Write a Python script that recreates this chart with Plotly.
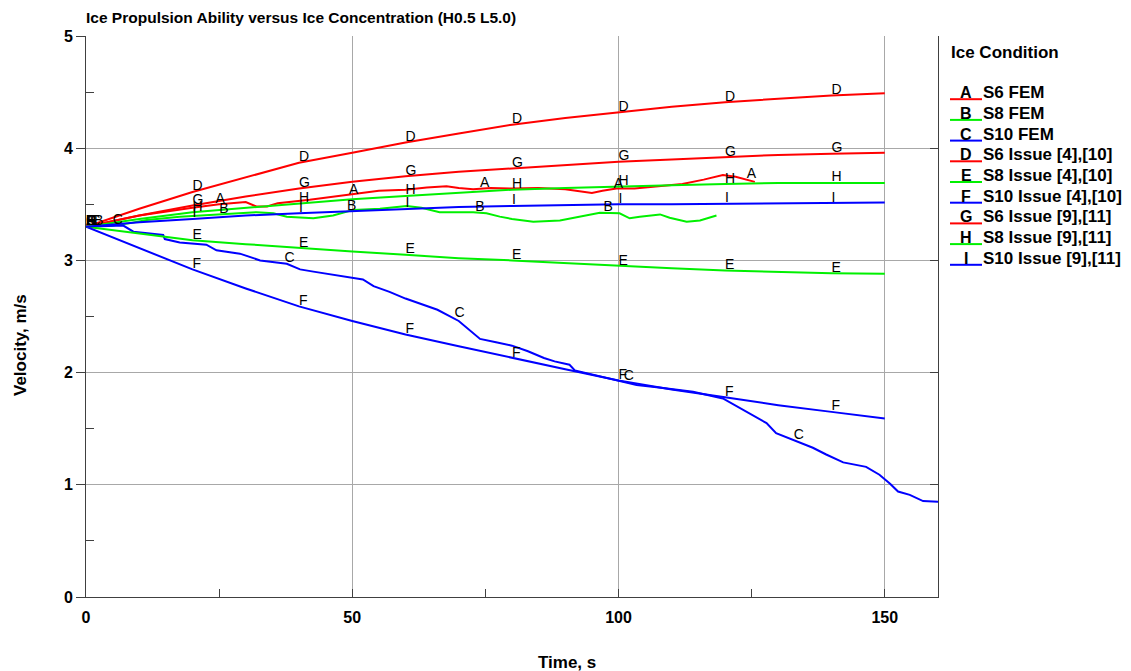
import numpy as np
import plotly.graph_objects as go

# ---------------- data ----------------
names = ["S6 FEM", "S8 FEM", "S10 FEM",
         "S6 Issue [4],[10]", "S8 Issue [4],[10]", "S10 Issue [4],[10]",
         "S6 Issue [9],[11]", "S8 Issue [9],[11]", "S10 Issue [9],[11]"]
letters = ["A", "B", "C", "D", "E", "F", "G", "H", "I"]
colors = ["#ff0000", "#00f000", "#0000ff"] * 3

# A: S6 FEM
a_x = [0, 10, 20, 25, 30, 32, 34, 36, 42, 49, 55, 60, 64, 67.7, 70, 72.7, 76, 80, 85, 90,
       93, 95, 97, 99.6, 103, 108, 112, 116, 119.6, 122, 124, 125.6]
a_y = [3.30, 3.40, 3.47, 3.50, 3.52, 3.48, 3.48, 3.51, 3.54, 3.58, 3.62, 3.63, 3.65, 3.66, 3.645,
       3.635, 3.645, 3.64, 3.645, 3.635, 3.61, 3.60, 3.62, 3.64, 3.64, 3.665, 3.68, 3.72, 3.76,
       3.745, 3.72, 3.70]
# B: S8 FEM
b_x = [0, 5, 8, 11.4, 17.6, 23.9, 30.2, 32, 35.2, 37.7, 42.7, 46.4, 50.2, 55.2, 60.2, 63, 66.4,
       72.7, 75.2, 77.7, 80, 84, 89, 93.4, 96.5, 100.2, 102.1, 104, 107.8, 109.6, 112.8, 115.3, 118.4]
b_y = [3.30, 3.31, 3.33, 3.36, 3.39, 3.41, 3.43, 3.43, 3.42, 3.39, 3.375, 3.40, 3.45, 3.46, 3.485,
       3.47, 3.43, 3.43, 3.42, 3.39, 3.37, 3.345, 3.355, 3.395, 3.425, 3.42, 3.375, 3.39, 3.41,
       3.38, 3.345, 3.355, 3.40]
# C: S10 FEM
c_x = [0, 5, 7, 8.9, 14.5, 14.8, 17.6, 22.6, 24.5, 28.9, 32.7, 37.7, 40.2, 42.7, 50.2, 52, 54,
       57, 60, 63, 66, 70, 72, 74, 77, 80, 83, 86, 88, 90.8, 91.8, 100.2, 103.4, 108, 114, 119.6,
       124, 127.8, 129.6, 132.8, 136.5, 139, 142.2, 146.5, 149, 151, 152.5, 154.7, 157.2, 160]
c_y = [3.30, 3.31, 3.31, 3.256, 3.226, 3.19, 3.16, 3.14, 3.09, 3.06, 3.00, 2.97, 2.92, 2.90, 2.84,
       2.83, 2.77, 2.72, 2.66, 2.61, 2.56, 2.46, 2.38, 2.30, 2.27, 2.24, 2.19, 2.13, 2.10, 2.07,
       2.02, 1.93, 1.89, 1.865, 1.83, 1.77, 1.65, 1.55, 1.46, 1.40, 1.33, 1.27, 1.20, 1.16, 1.09,
       1.01, 0.94, 0.91, 0.855, 0.85]
# D..I: issue curves, sampled every 10 s
t = [0, 10, 20, 30, 40, 50, 60, 70, 80, 90, 100, 110, 120, 130, 140, 150]
d_y = [3.30, 3.46, 3.61, 3.74, 3.87, 3.96, 4.05, 4.13, 4.21, 4.27, 4.32, 4.37, 4.41, 4.44, 4.47, 4.49]
e_y = [3.30, 3.24, 3.18, 3.145, 3.11, 3.08, 3.05, 3.02, 3.00, 2.975, 2.95, 2.93, 2.91, 2.895, 2.885, 2.88]
f_y = [3.30, 3.11, 2.92, 2.75, 2.59, 2.46, 2.34, 2.235, 2.13, 2.03, 1.93, 1.85, 1.78, 1.71, 1.65, 1.59]
g_y = [3.30, 3.40, 3.49, 3.57, 3.64, 3.70, 3.75, 3.79, 3.82, 3.85, 3.88, 3.90, 3.92, 3.94, 3.95, 3.96]
h_y = [3.30, 3.37, 3.43, 3.47, 3.51, 3.545, 3.575, 3.60, 3.63, 3.645, 3.66, 3.67, 3.68, 3.69, 3.69, 3.69]
i_y = [3.30, 3.34, 3.37, 3.40, 3.42, 3.44, 3.46, 3.475, 3.485, 3.495, 3.50, 3.50, 3.505, 3.51, 3.51, 3.515]

# where the curve letters are written (time, s; letter starts there)
a_lab = [0, 24.3, 49.4, 74, 99.1, 124.1]
b_lab = [1.5, 25, 49, 73.1, 97.2]
c_lab = [0.8, 5, 37.3, 69.2, 101, 132.9]
issue_lab = [0, 20, 40, 60, 80, 100, 120, 140]

series_x = [a_x, b_x, c_x, t, t, t, t, t, t]
series_y = [a_y, b_y, c_y, d_y, e_y, f_y, g_y, h_y, i_y]
series_lab = [a_lab, b_lab, c_lab] + [issue_lab] * 6

x_ticks = [0, 50, 100, 150]
y_ticks = [0, 1, 2, 3, 4, 5]

# ---------------- layout geometry ----------------
W, H = 1131, 671
ML, MR, MT, MB = 86, 193, 36, 74
PW = W - ML - MR
PH = H - MT - MB
Y_RANGE = 5.0
LABEL_LIFT = 5.0 * Y_RANGE / PH  # letters sit ~5 px above their curve


def px(xp):
    return (xp - ML) / PW


def py(yp):
    return (H - MB - yp) / PH


FONT = "Arial, 'Liberation Sans', sans-serif"

fig = go.Figure()
for k in range(9):
    fig.add_trace(go.Scatter(x=series_x[k], y=series_y[k], mode="lines",
                             line=dict(color=colors[k], width=2),
                             name=names[k], showlegend=False, hoverinfo="skip"))
for k in range(9):
    lx = np.array(series_lab[k], dtype=float)
    ly = np.interp(lx, series_x[k], series_y[k]) + LABEL_LIFT
    fig.add_trace(go.Scatter(x=lx, y=ly, mode="text", text=[letters[k]] * len(lx),
                             textposition="middle right",
                             textfont=dict(family=FONT, size=14, color="black"),
                             showlegend=False, hoverinfo="skip"))

# invisible trace for right-hand axis
fig.add_trace(go.Scatter(x=[0], y=[0], yaxis="y2", mode="markers",
                         marker=dict(opacity=0), showlegend=False, hoverinfo="skip"))

fig.update_layout(
    width=W, height=H,
    margin=dict(l=ML, r=MR, t=MT, b=MB),
    paper_bgcolor="white", plot_bgcolor="white",
    font=dict(family=FONT, color="black"),
    showlegend=False,
    title=dict(text="<b>Ice Propulsion Ability versus Ice Concentration (H0.5 L5.0)</b>",
               x=ML / W, xanchor="left", y=1 - 18 / H, yanchor="middle",
               font=dict(size=15.5, family=FONT, color="black")),
    xaxis=dict(range=[0, 160], tickvals=x_ticks, ticktext=[str(v) for v in x_ticks],
               showgrid=True, gridcolor="#a8a8a8", gridwidth=1,
               showline=True, linecolor="#404040", linewidth=1,
               ticks="inside", ticklen=8, tickcolor="#404040",
               minor=dict(tickvals=[25, 75, 125], ticks="inside", ticklen=8, tickcolor="#404040",
                          showgrid=False),
               tickfont=dict(size=16, family=FONT, color="black", weight="bold"),
               ticklabelstandoff=6, zeroline=False, fixedrange=True),
    yaxis=dict(range=[0, Y_RANGE], tickvals=y_ticks, ticktext=[str(v) for v in y_ticks],
               showgrid=True, gridcolor="#a8a8a8", gridwidth=1,
               showline=True, linecolor="#404040", linewidth=1,
               ticks="outside", ticklen=9, tickcolor="#404040",
               minor=dict(tickvals=[0.5, 1.5, 2.5, 3.5, 4.5], ticks="inside", ticklen=8,
                          tickcolor="#404040", showgrid=False),
               tickfont=dict(size=16, family=FONT, color="black", weight="bold"),
               zeroline=False, fixedrange=True),
    yaxis2=dict(range=[0, Y_RANGE], overlaying="y", side="right", tickvals=y_ticks,
                showticklabels=False, ticks="inside", ticklen=8, tickcolor="#404040",
                showgrid=False, showline=True, linecolor="#404040", linewidth=1,
                zeroline=False, fixedrange=True),
)

ann = []
shapes = []
# axis titles
ann.append(dict(text="<b>Time, s</b>", x=px(567), y=py(662), xref="paper", yref="paper",
                showarrow=False, xanchor="center", yanchor="middle",
                font=dict(size=17, family=FONT, color="black")))
ann.append(dict(text="<b>Velocity, m/s</b>", x=px(20), y=py(345), xref="paper", yref="paper",
                showarrow=False, xanchor="center", yanchor="middle", textangle=-90,
                font=dict(size=17, family=FONT, color="black")))
# legend
ann.append(dict(text="<b>Ice Condition</b>", x=px(949), y=py(52), xref="paper", yref="paper",
                showarrow=False, xanchor="left", yanchor="middle",
                font=dict(size=17, family=FONT, color="black")))
for k in range(9):
    yc = 92.7 + 20.7 * k
    shapes.append(dict(type="line", xref="paper", yref="paper",
                       x0=px(950), x1=px(982), y0=py(yc + 6.5), y1=py(yc + 6.5),
                       line=dict(color=colors[k], width=2)))
    ann.append(dict(text="<b>" + letters[k] + "</b>", x=px(966), y=py(yc), xref="paper",
                    yref="paper", showarrow=False, xanchor="center", yanchor="middle",
                    font=dict(size=16, family=FONT, color="black")))
    ann.append(dict(text="<b>" + names[k] + "</b>", x=px(981), y=py(yc), xref="paper",
                    yref="paper", showarrow=False, xanchor="left", yanchor="middle",
                    font=dict(size=17, family=FONT, color="black")))
fig.update_layout(annotations=ann, shapes=shapes)

fig.write_html("out.html")
